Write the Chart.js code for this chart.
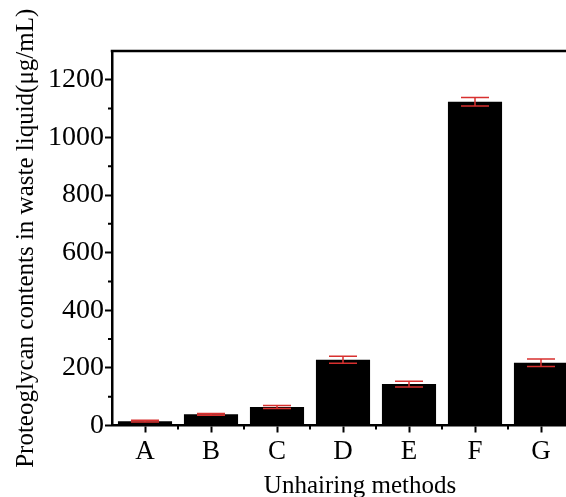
<!DOCTYPE html>
<html>
<head>
<meta charset="utf-8">
<script src="https://cdn.jsdelivr.net/npm/chart.js@4/dist/chart.umd.min.js"></script>
<style>
  html, body { margin: 0; padding: 0; background: #fff; overflow: hidden; }
  #wrap { width: 580px; height: 497px; position: relative; }
</style>
</head>
<body>
<div id="wrap"><canvas id="chart"></canvas></div>
<script>
var methods = ['A', 'B', 'C', 'D', 'E', 'F', 'G'];
var contents = [15, 39, 64, 228, 144, 1124, 218];
var errors = [3, 3, 5, 12, 10, 15, 13];
var yTicks = [0, 200, 400, 600, 800, 1000, 1200];
var yMinorTicks = [100, 300, 500, 700, 900, 1100];

var serif = "'Liberation Serif', 'Times New Roman', serif";

// frame, minor ticks, error bars and x title
var extras = {
  id: 'extras',
  afterDatasetsDraw: function (chart) {
    var ctx = chart.ctx;
    var area = chart.chartArea;
    var x = chart.scales.x;
    var y = chart.scales.y;
    ctx.save();

    // error bars
    ctx.strokeStyle = '#d8302f';
    ctx.lineWidth = 1.5;
    contents.forEach(function (v, i) {
      var cx = x.getPixelForValue(i);
      var top = y.getPixelForValue(v + errors[i]);
      var bot = y.getPixelForValue(v - errors[i]);
      ctx.beginPath();
      ctx.moveTo(cx, top);
      ctx.lineTo(cx, bot);
      ctx.moveTo(cx - 14, top);
      ctx.lineTo(cx + 14, top);
      ctx.moveTo(cx - 14, bot);
      ctx.lineTo(cx + 14, bot);
      ctx.stroke();
    });

    // top frame line
    ctx.strokeStyle = '#000';
    ctx.lineWidth = 2.5;
    ctx.beginPath();
    ctx.moveTo(area.left - 1.25, area.top);
    ctx.lineTo(area.right, area.top);
    ctx.lineTo(area.right, area.bottom);
    ctx.stroke();

    // minor ticks
    ctx.lineWidth = 2;
    ctx.beginPath();
    yMinorTicks.forEach(function (v) {
      var py = y.getPixelForValue(v);
      ctx.moveTo(area.left, py);
      ctx.lineTo(area.left - 4, py);
    });
    for (var i = 0; i < methods.length - 1; i++) {
      var px = (x.getPixelForValue(i) + x.getPixelForValue(i + 1)) / 2;
      ctx.moveTo(px, area.bottom);
      ctx.lineTo(px, area.bottom + 4);
    }
    ctx.stroke();

    // x title
    ctx.fillStyle = '#000';
    ctx.font = '25px ' + serif;
    ctx.textAlign = 'center';
    ctx.textBaseline = 'alphabetic';
    ctx.fillText('Unhairing methods', 360, 493);
    ctx.restore();
  }
};

new Chart(document.getElementById('chart'), {
  type: 'bar',
  data: {
    labels: methods,
    datasets: [{
      data: contents,
      backgroundColor: '#000',
      borderWidth: 0,
      barPercentage: 0.82,
      categoryPercentage: 1
    }]
  },
  options: {
    responsive: true,
    maintainAspectRatio: false,
    animation: false,
    layout: { padding: { top: 51, right: 6, left: 0, bottom: 0 } },
    plugins: {
      legend: { display: false },
      tooltip: { enabled: false }
    },
    scales: {
      x: {
        afterFit: function (s) { s.height = 71.5; },
        grid: {
          drawOnChartArea: false,
          offset: false,
          tickLength: 7,
          tickWidth: 2,
          tickColor: '#000'
        },
        border: { display: true, color: '#000', width: 2.5 },
        ticks: {
          color: '#000',
          padding: 3,
          maxRotation: 0,
          font: { family: serif, size: 27 }
        }
      },
      y: {
        min: 0,
        max: 1300,
        afterFit: function (s) { s.width = 112; },
        afterBuildTicks: function (s) {
          s.ticks = yTicks.map(function (v) { return { value: v }; });
        },
        grid: {
          drawOnChartArea: false,
          tickLength: 7,
          tickWidth: 2,
          tickColor: '#000'
        },
        border: { display: true, color: '#000', width: 2.5 },
        ticks: {
          color: '#000',
          padding: 1,
          font: { family: serif, size: 28 },
          callback: function (v) { return String(v); }
        },
        title: {
          display: true,
          text: 'Proteoglycan contents in waste liquid(μg/mL)',
          color: '#000',
          padding: { top: 11, bottom: 0 },
          font: { family: serif, size: 25 }
        }
      }
    }
  },
  plugins: [extras]
});
</script>
</body>
</html>
